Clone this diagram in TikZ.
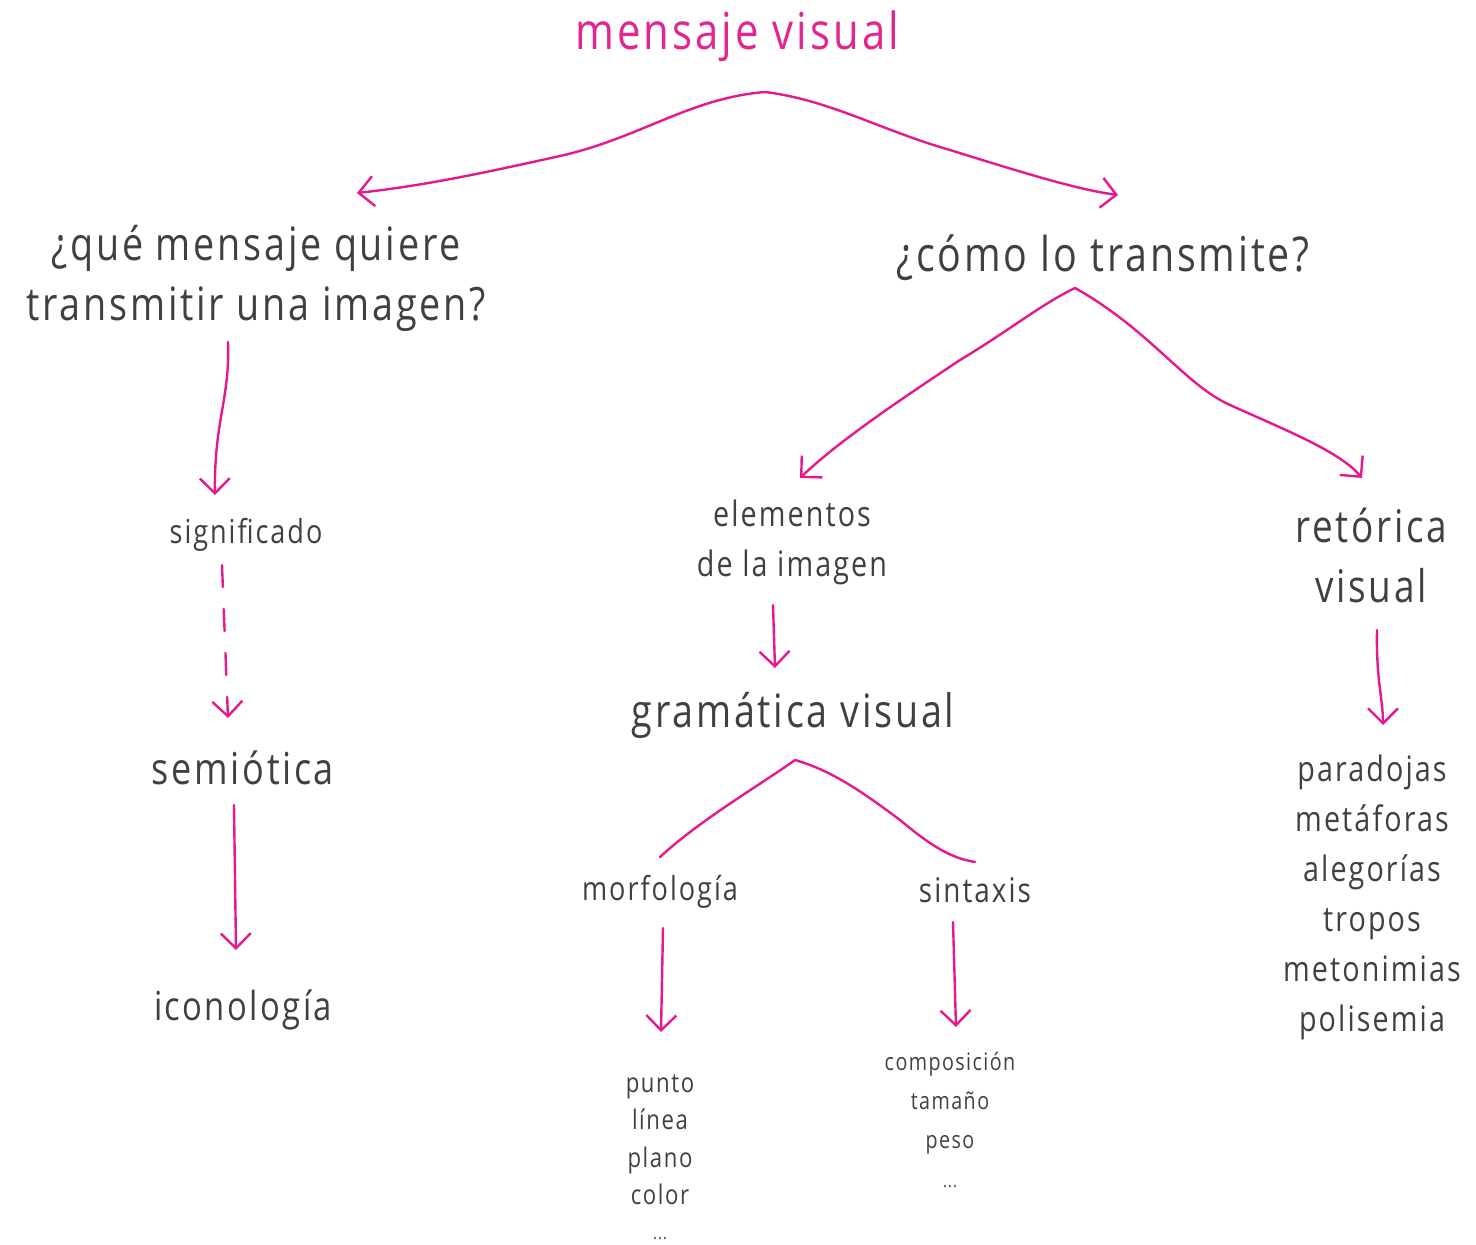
\documentclass[tikz,border=0pt]{standalone}
\usepackage{fontspec}
\setmainfont{Open Sans}[FakeStretch=0.82,LetterSpace=6]
\usetikzlibrary{arrows.meta,calc}
\definecolor{ink}{HTML}{404040}
\definecolor{mag}{HTML}{E6198C}
\definecolor{magtitle}{HTML}{E3268F}
\newcommand\fsz[2]{\fontsize{#1}{#2}\selectfont}

\begin{document}
\begin{tikzpicture}[x=1pt,y=-1pt,
  txt/.style={inner sep=0pt, align=center, text=ink},
  link/.style={draw=mag, line width=2.4pt, line cap=round, line join=round},
  arr/.style={link, -{Straight Barb[length=15pt,width=30pt]}}]

\useasboundingbox (0,0) rectangle (1476,1245);

% labels
\node[txt, text=magtitle, font=\fsz{51}{55}] (title) at (737,36) {mensaje visual};
\node[txt, font=\fsz{46}{60}] (q) at (256,278) {¿qué mensaje quiere\\transmitir una imagen?};
\node[txt, font=\fsz{48}{55}] (how) at (1103,258) {¿cómo lo transmite?};
\node[txt, font=\fsz{33}{36}] (sig) at (246,535) {significado};
\node[txt, font=\fsz{44}{48}] (semi) at (243,768) {semiótica};
\node[txt, font=\fsz{40}{48}] (icon) at (243,1010) {iconología};
\node[txt, font=\fsz{35}{50}] (elem) at (792,542) {elementos\\de la imagen};
\node[txt, font=\fsz{46}{50}] (gram) at (793,715) {gramática visual};
\node[txt, font=\fsz{45}{60}] (ret) at (1371,555) {retórica\\visual};
\node[txt, font=\fsz{33}{40}] (morf) at (660,892) {morfología};
\node[txt, font=\fsz{34}{40}] (sint) at (975,890) {sintaxis};
\node[txt, font=\fsz{27}{37.5}] (mlist) at (660,1157) {punto\\línea\\plano\\color\\[-3pt]{\fsz{18}{20}...}};
\node[txt, font=\fsz{24}{39}] (slist) at (950,1120) {composición\\tamaño\\peso\\{\fsz{18}{20}...}};
\node[txt, font=\fsz{35}{50}] (rlist) at (1372,897) {paradojas\\metáforas\\alegorías\\tropos\\metonimias\\polisemia};

% branching points
\coordinate (topApex) at ([shift={(28,56)}]title.center);
\coordinate (howApex) at ([shift={(-28,30)}]how.center);
\coordinate (gramApex) at ([shift={(2,45)}]gram.center);

% connectors
\draw[arr] (topApex) .. controls (690,98) and (640,138) .. (560,156)
  .. controls (470,176) and (420,186) .. ([shift={(101,-85)}]q.center);
\draw[arr] (topApex) .. controls (830,100) and (880,130) .. (950,150)
  .. controls (1030,175) and (1080,190) .. ([shift={(15,-63)}]how.center);

\draw[arr] ([shift={(-28,64)}]q.center) .. controls (230,400) and (214,420) .. ([shift={(-31,-40)}]sig.center);
\draw[arr, dash pattern=on 22pt off 22pt] ([shift={(-24,30)}]sig.center) -- ([shift={(-15,-50)}]semi.center);
\draw[arr] ([shift={(-9,37)}]semi.center) -- ([shift={(-7,-60)}]icon.center);

\draw[arr] (howApex) .. controls (1040,305) and (1010,330) .. (960,360)
  .. controls (900,400) and (840,440) .. ([shift={(8,-64)}]elem.center);
\draw[arr] (howApex) .. controls (1150,330) and (1185,385) .. (1230,405)
  .. controls (1290,432) and (1340,452) .. ([shift={(-9,-77)}]ret.center);

\draw[arr] ([shift={(-19,63)}]elem.center) -- ([shift={(-18,-47)}]gram.center);

\draw[link] (gramApex) .. controls (760,785) and (700,820) .. ([shift={(0,-35)}]morf.center);
\draw[link] (gramApex) .. controls (830,770) and (860,790) .. (900,820)
  .. controls (930,845) and (950,858) .. ([shift={(0,-28)}]sint.center);

\draw[arr] ([shift={(3,36)}]morf.center) -- ([shift={(1,-125)}]mlist.center);
\draw[arr] ([shift={(-22,32)}]sint.center) -- ([shift={(6,-93)}]slist.center);
\draw[arr] ([shift={(6,75)}]ret.center) .. controls (1376,680) and (1383,700) .. ([shift={(11,-172)}]rlist.center);
\end{tikzpicture}
\end{document}
